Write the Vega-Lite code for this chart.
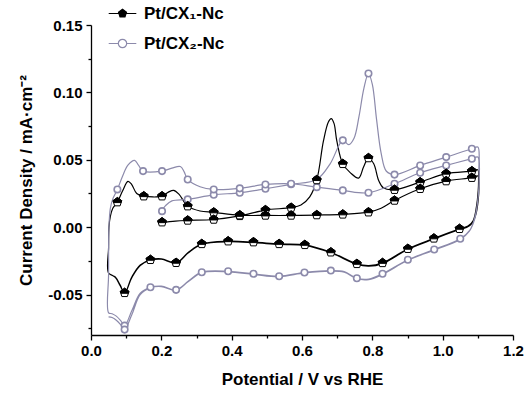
{
"$schema": "https://vega.github.io/schema/vega-lite/v6.json",
"width": 422, "height": 310,
"autosize": "none",
"padding": {"left": 91, "top": 25, "right": 15, "bottom": 61},
"background": "white",
"config": {"view": {"stroke": null}, "font": "Liberation Sans"},
"datasets": {
"cv": [
{"s":"Pt/CX₁-Nc","i":1,"x":0.200,"y":0.0035},{"s":"Pt/CX₁-Nc","i":2,"x":0.240,"y":0.0045},{"s":"Pt/CX₁-Nc","i":3,"x":0.275,"y":0.0050},{"s":"Pt/CX₁-Nc","i":4,"x":0.349,"y":0.0057},{"s":"Pt/CX₁-Nc","i":5,"x":0.423,"y":0.0084},{"s":"Pt/CX₁-Nc","i":6,"x":0.496,"y":0.0127},{"s":"Pt/CX₁-Nc","i":7,"x":0.569,"y":0.0145},{"s":"Pt/CX₁-Nc","i":8,"x":0.597,"y":0.0165},{"s":"Pt/CX₁-Nc","i":9,"x":0.622,"y":0.0225},{"s":"Pt/CX₁-Nc","i":10,"x":0.642,"y":0.035},{"s":"Pt/CX₁-Nc","i":11,"x":0.661,"y":0.064},{"s":"Pt/CX₁-Nc","i":12,"x":0.675,"y":0.078},{"s":"Pt/CX₁-Nc","i":13,"x":0.683,"y":0.0805},{"s":"Pt/CX₁-Nc","i":14,"x":0.691,"y":0.077},{"s":"Pt/CX₁-Nc","i":15,"x":0.699,"y":0.064},{"s":"Pt/CX₁-Nc","i":16,"x":0.716,"y":0.047},{"s":"Pt/CX₁-Nc","i":17,"x":0.737,"y":0.0405},{"s":"Pt/CX₁-Nc","i":18,"x":0.761,"y":0.0364},{"s":"Pt/CX₁-Nc","i":19,"x":0.775,"y":0.0446},{"s":"Pt/CX₁-Nc","i":20,"x":0.789,"y":0.0513},{"s":"Pt/CX₁-Nc","i":21,"x":0.804,"y":0.047},{"s":"Pt/CX₁-Nc","i":22,"x":0.818,"y":0.0347},{"s":"Pt/CX₁-Nc","i":23,"x":0.832,"y":0.029},{"s":"Pt/CX₁-Nc","i":24,"x":0.863,"y":0.0278},{"s":"Pt/CX₁-Nc","i":25,"x":0.936,"y":0.0334},{"s":"Pt/CX₁-Nc","i":26,"x":1.010,"y":0.0397},{"s":"Pt/CX₁-Nc","i":27,"x":1.083,"y":0.0416},{"s":"Pt/CX₁-Nc","i":28,"x":1.100,"y":0.0425},
{"s":"Pt/CX₁-Nc","i":29,"x":1.102,"y":0.036},{"s":"Pt/CX₁-Nc","i":30,"x":1.101,"y":0.027},{"s":"Pt/CX₁-Nc","i":31,"x":1.096,"y":0.015},{"s":"Pt/CX₁-Nc","i":32,"x":1.087,"y":0.005},{"s":"Pt/CX₁-Nc","i":33,"x":1.072,"y":0.0008},{"s":"Pt/CX₁-Nc","i":34,"x":1.048,"y":-0.0012},{"s":"Pt/CX₁-Nc","i":35,"x":0.975,"y":-0.0083},{"s":"Pt/CX₁-Nc","i":36,"x":0.901,"y":-0.016},{"s":"Pt/CX₁-Nc","i":37,"x":0.829,"y":-0.0265},{"s":"Pt/CX₁-Nc","i":38,"x":0.790,"y":-0.0285},{"s":"Pt/CX₁-Nc","i":39,"x":0.756,"y":-0.0272},{"s":"Pt/CX₁-Nc","i":40,"x":0.682,"y":-0.0186},{"s":"Pt/CX₁-Nc","i":41,"x":0.608,"y":-0.0131},{"s":"Pt/CX₁-Nc","i":42,"x":0.535,"y":-0.0124},{"s":"Pt/CX₁-Nc","i":43,"x":0.462,"y":-0.0111},{"s":"Pt/CX₁-Nc","i":44,"x":0.390,"y":-0.0104},{"s":"Pt/CX₁-Nc","i":45,"x":0.315,"y":-0.0124},{"s":"Pt/CX₁-Nc","i":46,"x":0.277,"y":-0.0186},{"s":"Pt/CX₁-Nc","i":47,"x":0.242,"y":-0.0264},{"s":"Pt/CX₁-Nc","i":48,"x":0.200,"y":-0.0235},{"s":"Pt/CX₁-Nc","i":49,"x":0.169,"y":-0.0242},{"s":"Pt/CX₁-Nc","i":50,"x":0.140,"y":-0.028},{"s":"Pt/CX₁-Nc","i":51,"x":0.116,"y":-0.037},{"s":"Pt/CX₁-Nc","i":52,"x":0.0956,"y":-0.0487},{"s":"Pt/CX₁-Nc","i":53,"x":0.083,"y":-0.043},{"s":"Pt/CX₁-Nc","i":54,"x":0.069,"y":-0.037},{"s":"Pt/CX₁-Nc","i":55,"x":0.050,"y":-0.034},
{"s":"Pt/CX₁-Nc","i":56,"x":0.050,"y":-0.015},{"s":"Pt/CX₁-Nc","i":57,"x":0.051,"y":0.000},{"s":"Pt/CX₁-Nc","i":58,"x":0.055,"y":0.008},{"s":"Pt/CX₁-Nc","i":59,"x":0.062,"y":0.014},{"s":"Pt/CX₁-Nc","i":60,"x":0.075,"y":0.0186},{"s":"Pt/CX₁-Nc","i":61,"x":0.090,"y":0.027},{"s":"Pt/CX₁-Nc","i":62,"x":0.105,"y":0.034},{"s":"Pt/CX₁-Nc","i":63,"x":0.115,"y":0.032},{"s":"Pt/CX₁-Nc","i":64,"x":0.130,"y":0.025},{"s":"Pt/CX₁-Nc","i":65,"x":0.150,"y":0.023},{"s":"Pt/CX₁-Nc","i":66,"x":0.202,"y":0.023},{"s":"Pt/CX₁-Nc","i":67,"x":0.220,"y":0.026},{"s":"Pt/CX₁-Nc","i":68,"x":0.235,"y":0.0273},{"s":"Pt/CX₁-Nc","i":69,"x":0.250,"y":0.0245},{"s":"Pt/CX₁-Nc","i":70,"x":0.275,"y":0.0156},{"s":"Pt/CX₁-Nc","i":71,"x":0.310,"y":0.0120},{"s":"Pt/CX₁-Nc","i":72,"x":0.349,"y":0.0110},{"s":"Pt/CX₁-Nc","i":73,"x":0.423,"y":0.0089},{"s":"Pt/CX₁-Nc","i":74,"x":0.496,"y":0.0087},{"s":"Pt/CX₁-Nc","i":75,"x":0.569,"y":0.0087},{"s":"Pt/CX₁-Nc","i":76,"x":0.642,"y":0.0090},{"s":"Pt/CX₁-Nc","i":77,"x":0.716,"y":0.0095},{"s":"Pt/CX₁-Nc","i":78,"x":0.789,"y":0.0111},{"s":"Pt/CX₁-Nc","i":79,"x":0.825,"y":0.0140},{"s":"Pt/CX₁-Nc","i":80,"x":0.863,"y":0.0198},{"s":"Pt/CX₁-Nc","i":81,"x":0.936,"y":0.0285},{"s":"Pt/CX₁-Nc","i":82,"x":1.010,"y":0.0342},{"s":"Pt/CX₁-Nc","i":83,"x":1.083,"y":0.0367},{"s":"Pt/CX₁-Nc","i":84,"x":1.100,"y":0.0380},
{"s":"Pt/CX₁-Nc","i":85,"x":1.103,"y":0.030},{"s":"Pt/CX₁-Nc","i":86,"x":1.101,"y":0.020},{"s":"Pt/CX₁-Nc","i":87,"x":1.095,"y":0.010},{"s":"Pt/CX₁-Nc","i":88,"x":1.084,"y":0.003},{"s":"Pt/CX₁-Nc","i":89,"x":1.068,"y":-0.0003},{"s":"Pt/CX₁-Nc","i":90,"x":1.048,"y":-0.0017},{"s":"Pt/CX₁-Nc","i":91,"x":0.975,"y":-0.0088},{"s":"Pt/CX₁-Nc","i":92,"x":0.901,"y":-0.0165},{"s":"Pt/CX₁-Nc","i":93,"x":0.829,"y":-0.0270},{"s":"Pt/CX₁-Nc","i":94,"x":0.790,"y":-0.0289},{"s":"Pt/CX₁-Nc","i":95,"x":0.756,"y":-0.0276},{"s":"Pt/CX₁-Nc","i":96,"x":0.682,"y":-0.0190},{"s":"Pt/CX₁-Nc","i":97,"x":0.608,"y":-0.0135},{"s":"Pt/CX₁-Nc","i":98,"x":0.535,"y":-0.0128},{"s":"Pt/CX₁-Nc","i":99,"x":0.462,"y":-0.0115},{"s":"Pt/CX₁-Nc","i":100,"x":0.390,"y":-0.0108},{"s":"Pt/CX₁-Nc","i":101,"x":0.315,"y":-0.0128},{"s":"Pt/CX₁-Nc","i":102,"x":0.277,"y":-0.0190},{"s":"Pt/CX₁-Nc","i":103,"x":0.242,"y":-0.0267},{"s":"Pt/CX₁-Nc","i":104,"x":0.200,"y":-0.0238},{"s":"Pt/CX₁-Nc","i":105,"x":0.169,"y":-0.0245},{"s":"Pt/CX₁-Nc","i":106,"x":0.140,"y":-0.0284},{"s":"Pt/CX₁-Nc","i":107,"x":0.116,"y":-0.0374},{"s":"Pt/CX₁-Nc","i":108,"x":0.0956,"y":-0.049},{"s":"Pt/CX₁-Nc","i":109,"x":0.083,"y":-0.0434},{"s":"Pt/CX₁-Nc","i":110,"x":0.069,"y":-0.0373},{"s":"Pt/CX₁-Nc","i":111,"x":0.050,"y":-0.0344},
{"s":"Pt/CX₂-Nc","i":1,"x":0.200,"y":0.0119},{"s":"Pt/CX₂-Nc","i":2,"x":0.212,"y":0.0160},{"s":"Pt/CX₂-Nc","i":3,"x":0.230,"y":0.0195},{"s":"Pt/CX₂-Nc","i":4,"x":0.275,"y":0.0206},{"s":"Pt/CX₂-Nc","i":5,"x":0.349,"y":0.0240},{"s":"Pt/CX₂-Nc","i":6,"x":0.423,"y":0.0255},{"s":"Pt/CX₂-Nc","i":7,"x":0.496,"y":0.0285},{"s":"Pt/CX₂-Nc","i":8,"x":0.569,"y":0.0318},{"s":"Pt/CX₂-Nc","i":9,"x":0.642,"y":0.0354},{"s":"Pt/CX₂-Nc","i":10,"x":0.680,"y":0.047},{"s":"Pt/CX₂-Nc","i":11,"x":0.716,"y":0.0644},{"s":"Pt/CX₂-Nc","i":12,"x":0.733,"y":0.0612},{"s":"Pt/CX₂-Nc","i":13,"x":0.748,"y":0.066},{"s":"Pt/CX₂-Nc","i":14,"x":0.762,"y":0.082},{"s":"Pt/CX₂-Nc","i":15,"x":0.776,"y":0.103},{"s":"Pt/CX₂-Nc","i":16,"x":0.789,"y":0.114},{"s":"Pt/CX₂-Nc","i":17,"x":0.800,"y":0.106},{"s":"Pt/CX₂-Nc","i":18,"x":0.812,"y":0.080},{"s":"Pt/CX₂-Nc","i":19,"x":0.825,"y":0.055},{"s":"Pt/CX₂-Nc","i":20,"x":0.840,"y":0.0415},{"s":"Pt/CX₂-Nc","i":21,"x":0.863,"y":0.0390},{"s":"Pt/CX₂-Nc","i":22,"x":0.936,"y":0.0458},{"s":"Pt/CX₂-Nc","i":23,"x":1.010,"y":0.0520},{"s":"Pt/CX₂-Nc","i":24,"x":1.083,"y":0.0582},{"s":"Pt/CX₂-Nc","i":25,"x":1.100,"y":0.0595},
{"s":"Pt/CX₂-Nc","i":26,"x":1.104,"y":0.050},{"s":"Pt/CX₂-Nc","i":27,"x":1.104,"y":0.035},{"s":"Pt/CX₂-Nc","i":28,"x":1.100,"y":0.020},{"s":"Pt/CX₂-Nc","i":29,"x":1.092,"y":0.008},{"s":"Pt/CX₂-Nc","i":30,"x":1.078,"y":-0.002},{"s":"Pt/CX₂-Nc","i":31,"x":1.050,"y":-0.0086},{"s":"Pt/CX₂-Nc","i":32,"x":0.976,"y":-0.0166},{"s":"Pt/CX₂-Nc","i":33,"x":0.901,"y":-0.0242},{"s":"Pt/CX₂-Nc","i":34,"x":0.829,"y":-0.0346},{"s":"Pt/CX₂-Nc","i":35,"x":0.790,"y":-0.0385},{"s":"Pt/CX₂-Nc","i":36,"x":0.756,"y":-0.0379},{"s":"Pt/CX₂-Nc","i":37,"x":0.720,"y":-0.0330},{"s":"Pt/CX₂-Nc","i":38,"x":0.682,"y":-0.0322},{"s":"Pt/CX₂-Nc","i":39,"x":0.607,"y":-0.0336},{"s":"Pt/CX₂-Nc","i":40,"x":0.535,"y":-0.0364},{"s":"Pt/CX₂-Nc","i":41,"x":0.462,"y":-0.0346},{"s":"Pt/CX₂-Nc","i":42,"x":0.390,"y":-0.0327},{"s":"Pt/CX₂-Nc","i":43,"x":0.315,"y":-0.0334},{"s":"Pt/CX₂-Nc","i":44,"x":0.277,"y":-0.0400},{"s":"Pt/CX₂-Nc","i":45,"x":0.242,"y":-0.0465},{"s":"Pt/CX₂-Nc","i":46,"x":0.200,"y":-0.0437},{"s":"Pt/CX₂-Nc","i":47,"x":0.169,"y":-0.0446},{"s":"Pt/CX₂-Nc","i":48,"x":0.140,"y":-0.0490},{"s":"Pt/CX₂-Nc","i":49,"x":0.116,"y":-0.0620},{"s":"Pt/CX₂-Nc","i":50,"x":0.0956,"y":-0.0730},{"s":"Pt/CX₂-Nc","i":51,"x":0.085,"y":-0.0695},{"s":"Pt/CX₂-Nc","i":52,"x":0.072,"y":-0.0660},{"s":"Pt/CX₂-Nc","i":53,"x":0.060,"y":-0.0642},{"s":"Pt/CX₂-Nc","i":54,"x":0.050,"y":-0.0635},
{"s":"Pt/CX₂-Nc","i":55,"x":0.050,"y":-0.0350},{"s":"Pt/CX₂-Nc","i":56,"x":0.051,"y":0.000},{"s":"Pt/CX₂-Nc","i":57,"x":0.055,"y":0.014},{"s":"Pt/CX₂-Nc","i":58,"x":0.062,"y":0.021},{"s":"Pt/CX₂-Nc","i":59,"x":0.075,"y":0.028},{"s":"Pt/CX₂-Nc","i":60,"x":0.090,"y":0.038},{"s":"Pt/CX₂-Nc","i":61,"x":0.105,"y":0.046},{"s":"Pt/CX₂-Nc","i":62,"x":0.124,"y":0.0496},{"s":"Pt/CX₂-Nc","i":63,"x":0.135,"y":0.046},{"s":"Pt/CX₂-Nc","i":64,"x":0.148,"y":0.0416},{"s":"Pt/CX₂-Nc","i":65,"x":0.202,"y":0.0416},{"s":"Pt/CX₂-Nc","i":66,"x":0.230,"y":0.0438},{"s":"Pt/CX₂-Nc","i":67,"x":0.254,"y":0.0450},{"s":"Pt/CX₂-Nc","i":68,"x":0.265,"y":0.0410},{"s":"Pt/CX₂-Nc","i":69,"x":0.275,"y":0.0354},{"s":"Pt/CX₂-Nc","i":70,"x":0.310,"y":0.0300},{"s":"Pt/CX₂-Nc","i":71,"x":0.349,"y":0.0280},{"s":"Pt/CX₂-Nc","i":72,"x":0.423,"y":0.0288},{"s":"Pt/CX₂-Nc","i":73,"x":0.496,"y":0.0317},{"s":"Pt/CX₂-Nc","i":74,"x":0.569,"y":0.0322},{"s":"Pt/CX₂-Nc","i":75,"x":0.642,"y":0.0297},{"s":"Pt/CX₂-Nc","i":76,"x":0.716,"y":0.0273},{"s":"Pt/CX₂-Nc","i":77,"x":0.789,"y":0.0255},{"s":"Pt/CX₂-Nc","i":78,"x":0.863,"y":0.0322},{"s":"Pt/CX₂-Nc","i":79,"x":0.936,"y":0.0404},{"s":"Pt/CX₂-Nc","i":80,"x":1.010,"y":0.0458},{"s":"Pt/CX₂-Nc","i":81,"x":1.083,"y":0.0508},{"s":"Pt/CX₂-Nc","i":82,"x":1.100,"y":0.0520},
{"s":"Pt/CX₂-Nc","i":83,"x":1.103,"y":0.042},{"s":"Pt/CX₂-Nc","i":84,"x":1.103,"y":0.030},{"s":"Pt/CX₂-Nc","i":85,"x":1.099,"y":0.018},{"s":"Pt/CX₂-Nc","i":86,"x":1.091,"y":0.006},{"s":"Pt/CX₂-Nc","i":87,"x":1.076,"y":-0.003},{"s":"Pt/CX₂-Nc","i":88,"x":1.050,"y":-0.0091},{"s":"Pt/CX₂-Nc","i":89,"x":0.976,"y":-0.0170},{"s":"Pt/CX₂-Nc","i":90,"x":0.901,"y":-0.0246},{"s":"Pt/CX₂-Nc","i":91,"x":0.829,"y":-0.0350},{"s":"Pt/CX₂-Nc","i":92,"x":0.790,"y":-0.0389},{"s":"Pt/CX₂-Nc","i":93,"x":0.756,"y":-0.0383},{"s":"Pt/CX₂-Nc","i":94,"x":0.720,"y":-0.0334},{"s":"Pt/CX₂-Nc","i":95,"x":0.682,"y":-0.0326},{"s":"Pt/CX₂-Nc","i":96,"x":0.607,"y":-0.0340},{"s":"Pt/CX₂-Nc","i":97,"x":0.535,"y":-0.0368},{"s":"Pt/CX₂-Nc","i":98,"x":0.462,"y":-0.0350},{"s":"Pt/CX₂-Nc","i":99,"x":0.390,"y":-0.0331},{"s":"Pt/CX₂-Nc","i":100,"x":0.315,"y":-0.0338},{"s":"Pt/CX₂-Nc","i":101,"x":0.277,"y":-0.0404},{"s":"Pt/CX₂-Nc","i":102,"x":0.242,"y":-0.0469},{"s":"Pt/CX₂-Nc","i":103,"x":0.200,"y":-0.0441},{"s":"Pt/CX₂-Nc","i":104,"x":0.169,"y":-0.0450},{"s":"Pt/CX₂-Nc","i":105,"x":0.140,"y":-0.0500},{"s":"Pt/CX₂-Nc","i":106,"x":0.116,"y":-0.0650},{"s":"Pt/CX₂-Nc","i":107,"x":0.0956,"y":-0.0760},{"s":"Pt/CX₂-Nc","i":108,"x":0.085,"y":-0.0725},{"s":"Pt/CX₂-Nc","i":109,"x":0.072,"y":-0.0690},{"s":"Pt/CX₂-Nc","i":110,"x":0.060,"y":-0.0670},{"s":"Pt/CX₂-Nc","i":111,"x":0.050,"y":-0.0665}
],
"sym": [
{"s":"Pt/CX₁-Nc","x":0.202,"y":0.0037},{"s":"Pt/CX₁-Nc","x":0.275,"y":0.0050},{"s":"Pt/CX₁-Nc","x":0.349,"y":0.0057},{"s":"Pt/CX₁-Nc","x":0.423,"y":0.0084},{"s":"Pt/CX₁-Nc","x":0.496,"y":0.0127},{"s":"Pt/CX₁-Nc","x":0.569,"y":0.0145},{"s":"Pt/CX₁-Nc","x":0.642,"y":0.035},{"s":"Pt/CX₁-Nc","x":0.716,"y":0.047},{"s":"Pt/CX₁-Nc","x":0.789,"y":0.0513},{"s":"Pt/CX₁-Nc","x":0.863,"y":0.0278},{"s":"Pt/CX₁-Nc","x":0.936,"y":0.0334},{"s":"Pt/CX₁-Nc","x":1.010,"y":0.0397},{"s":"Pt/CX₁-Nc","x":1.083,"y":0.0416},
{"s":"Pt/CX₁-Nc","x":0.075,"y":0.0186},{"s":"Pt/CX₁-Nc","x":0.150,"y":0.023},{"s":"Pt/CX₁-Nc","x":0.202,"y":0.023},{"s":"Pt/CX₁-Nc","x":0.275,"y":0.0156},{"s":"Pt/CX₁-Nc","x":0.349,"y":0.011},{"s":"Pt/CX₁-Nc","x":0.423,"y":0.0089},{"s":"Pt/CX₁-Nc","x":0.496,"y":0.0087},{"s":"Pt/CX₁-Nc","x":0.569,"y":0.0087},{"s":"Pt/CX₁-Nc","x":0.642,"y":0.009},{"s":"Pt/CX₁-Nc","x":0.716,"y":0.0095},{"s":"Pt/CX₁-Nc","x":0.789,"y":0.0111},{"s":"Pt/CX₁-Nc","x":0.863,"y":0.0198},{"s":"Pt/CX₁-Nc","x":0.936,"y":0.0285},{"s":"Pt/CX₁-Nc","x":1.010,"y":0.0342},{"s":"Pt/CX₁-Nc","x":1.083,"y":0.0367},
{"s":"Pt/CX₁-Nc","x":1.048,"y":-0.0012},{"s":"Pt/CX₁-Nc","x":0.975,"y":-0.0083},{"s":"Pt/CX₁-Nc","x":0.901,"y":-0.016},{"s":"Pt/CX₁-Nc","x":0.829,"y":-0.0265},{"s":"Pt/CX₁-Nc","x":0.756,"y":-0.0272},{"s":"Pt/CX₁-Nc","x":0.682,"y":-0.0186},{"s":"Pt/CX₁-Nc","x":0.608,"y":-0.0131},{"s":"Pt/CX₁-Nc","x":0.535,"y":-0.0124},{"s":"Pt/CX₁-Nc","x":0.462,"y":-0.0111},{"s":"Pt/CX₁-Nc","x":0.390,"y":-0.0104},{"s":"Pt/CX₁-Nc","x":0.315,"y":-0.0124},{"s":"Pt/CX₁-Nc","x":0.242,"y":-0.0264},{"s":"Pt/CX₁-Nc","x":0.169,"y":-0.0242},{"s":"Pt/CX₁-Nc","x":0.0956,"y":-0.0487},
{"s":"Pt/CX₂-Nc","x":0.202,"y":0.0119},{"s":"Pt/CX₂-Nc","x":0.275,"y":0.0206},{"s":"Pt/CX₂-Nc","x":0.349,"y":0.024},{"s":"Pt/CX₂-Nc","x":0.423,"y":0.0255},{"s":"Pt/CX₂-Nc","x":0.496,"y":0.0285},{"s":"Pt/CX₂-Nc","x":0.569,"y":0.0318},{"s":"Pt/CX₂-Nc","x":0.642,"y":0.0354},{"s":"Pt/CX₂-Nc","x":0.716,"y":0.0644},{"s":"Pt/CX₂-Nc","x":0.789,"y":0.114},{"s":"Pt/CX₂-Nc","x":0.863,"y":0.039},{"s":"Pt/CX₂-Nc","x":0.936,"y":0.0458},{"s":"Pt/CX₂-Nc","x":1.010,"y":0.052},{"s":"Pt/CX₂-Nc","x":1.083,"y":0.0582},
{"s":"Pt/CX₂-Nc","x":0.075,"y":0.028},{"s":"Pt/CX₂-Nc","x":0.148,"y":0.0416},{"s":"Pt/CX₂-Nc","x":0.202,"y":0.0416},{"s":"Pt/CX₂-Nc","x":0.275,"y":0.0354},{"s":"Pt/CX₂-Nc","x":0.349,"y":0.028},{"s":"Pt/CX₂-Nc","x":0.423,"y":0.0288},{"s":"Pt/CX₂-Nc","x":0.496,"y":0.0317},{"s":"Pt/CX₂-Nc","x":0.569,"y":0.0322},{"s":"Pt/CX₂-Nc","x":0.642,"y":0.0297},{"s":"Pt/CX₂-Nc","x":0.716,"y":0.0273},{"s":"Pt/CX₂-Nc","x":0.789,"y":0.0255},{"s":"Pt/CX₂-Nc","x":0.863,"y":0.0322},{"s":"Pt/CX₂-Nc","x":0.936,"y":0.0404},{"s":"Pt/CX₂-Nc","x":1.010,"y":0.0458},{"s":"Pt/CX₂-Nc","x":1.083,"y":0.0508},
{"s":"Pt/CX₂-Nc","x":1.050,"y":-0.0086},{"s":"Pt/CX₂-Nc","x":0.976,"y":-0.0166},{"s":"Pt/CX₂-Nc","x":0.901,"y":-0.0242},{"s":"Pt/CX₂-Nc","x":0.829,"y":-0.0346},{"s":"Pt/CX₂-Nc","x":0.756,"y":-0.0379},{"s":"Pt/CX₂-Nc","x":0.682,"y":-0.0322},{"s":"Pt/CX₂-Nc","x":0.607,"y":-0.0336},{"s":"Pt/CX₂-Nc","x":0.535,"y":-0.0364},{"s":"Pt/CX₂-Nc","x":0.462,"y":-0.0346},{"s":"Pt/CX₂-Nc","x":0.390,"y":-0.0327},{"s":"Pt/CX₂-Nc","x":0.315,"y":-0.0334},{"s":"Pt/CX₂-Nc","x":0.242,"y":-0.0465},{"s":"Pt/CX₂-Nc","x":0.169,"y":-0.0446},{"s":"Pt/CX₂-Nc","x":0.0956,"y":-0.073},{"s":"Pt/CX₂-Nc","x":0.0956,"y":-0.076}
]
},
"encoding": {
  "x": {"field": "x", "type": "quantitative", "title": "Potential / V vs RHE",
    "scale": {"domain": [0, 1.2], "nice": false, "zero": false},
    "axis": {"values": [0,0.1,0.2,0.3,0.4,0.5,0.6,0.7,0.8,0.9,1.0,1.1,1.2],
      "labelExpr": "round(datum.value*10)%2 ? '' : format(datum.value,'.1f')",
      "tickSize": {"condition": {"test": "round(datum.value*10)%2", "value": 3}, "value": 5},
      "grid": false, "domainColor": "black", "domainWidth": 1.3, "tickColor": "black", "tickWidth": 1.3,
      "labelFont": "Liberation Sans", "labelFontSize": 15, "labelFontWeight": "bold", "labelColor": "black",
      "labelPadding": 3, "labelOverlap": false, "labelFlush": false, "labelBound": false,
      "titleFont": "Liberation Sans", "titleFontSize": 17, "titleFontWeight": "bold", "titleColor": "black", "titlePadding": 13}},
  "y": {"field": "y", "type": "quantitative", "title": "Current Density / mA·cm⁻²",
    "scale": {"domain": [-0.08, 0.15], "nice": false, "zero": false},
    "axis": {"values": [-0.075,-0.05,-0.025,0,0.025,0.05,0.075,0.1,0.125,0.15],
      "labelExpr": "round(datum.value*40)%2 ? '' : replace(format(datum.value,'.2f'),'−','-')",
      "tickSize": {"condition": {"test": "round(datum.value*40)%2", "value": 3}, "value": 5},
      "grid": false, "domainColor": "black", "domainWidth": 1.3, "tickColor": "black", "tickWidth": 1.3,
      "labelFont": "Liberation Sans", "labelFontSize": 15, "labelFontWeight": "bold", "labelColor": "black",
      "labelPadding": 4, "labelOverlap": false, "labelFlush": false, "labelBound": false,
      "titleFont": "Liberation Sans", "titleFontSize": 17, "titleFontWeight": "bold", "titleColor": "black", "titlePadding": 12}}
},
"layer": [
  {"data": {"name": "cv"},
   "mark": {"type": "line", "interpolate": "catmull-rom", "strokeWidth": 1.2, "clip": false},
   "encoding": {
     "order": {"field": "i", "type": "quantitative"},
     "color": {"field": "s", "type": "nominal",
       "scale": {"domain": ["Pt/CX₁-Nc", "Pt/CX₂-Nc"], "range": ["#000000", "#8c8aab"]},
       "legend": {"orient": "none", "legendX": 23, "legendY": -20, "title": null, "padding": 0,
         "labelFont": "Liberation Sans", "labelFontSize": 17, "labelFontWeight": "bold", "labelColor": "black",
         "labelOffset": 13, "rowPadding": 12, "symbolSize": 70, "symbolStrokeWidth": 1.2,
         "encode": {"symbols": {"update": {
           "shape": {"signal": "datum.index === 0 ? 'M-3.3,0H-0.95M0.95,0H3.3M0,-1L0.95,-0.31L0.59,0.81L-0.59,0.81L-0.95,-0.31Z' : 'M-3.3,0H-1M1,0H3.3M1,0A1,1,0,1,1,-1,0A1,1,0,1,1,1,0Z'"},
           "fill": {"signal": "datum.index === 0 ? '#000000' : '#ffffff'"},
           "stroke": {"signal": "datum.index === 0 ? '#000000' : '#8c8aab'"},
           "strokeWidth": {"value": 1.2}}}}}}
   }},
  {"data": {"name": "sym"},
   "transform": [{"filter": "datum.s === 'Pt/CX₂-Nc'"}],
   "mark": {"type": "point", "shape": "circle", "filled": true, "fill": "white", "stroke": "#8c8aab", "strokeWidth": 1.6, "size": 42, "opacity": 1}},
  {"data": {"name": "sym"},
   "transform": [{"filter": "datum.s === 'Pt/CX₁-Nc'"}],
   "mark": {"type": "point", "shape": "M0,-1L0.95,-0.31L0.59,0.81L-0.59,0.81L-0.95,-0.31Z", "filled": true, "fill": "white", "stroke": "black", "strokeWidth": 1, "size": 85, "opacity": 1}},
  {"data": {"name": "sym"},
   "transform": [{"filter": "datum.s === 'Pt/CX₁-Nc'"}],
   "mark": {"type": "point", "shape": "M0,-1L0.95,-0.31L0.82,0.1L-0.82,0.1L-0.95,-0.31Z", "filled": true, "fill": "black", "stroke": "black", "strokeWidth": 1, "size": 85, "opacity": 1}}
]
}
